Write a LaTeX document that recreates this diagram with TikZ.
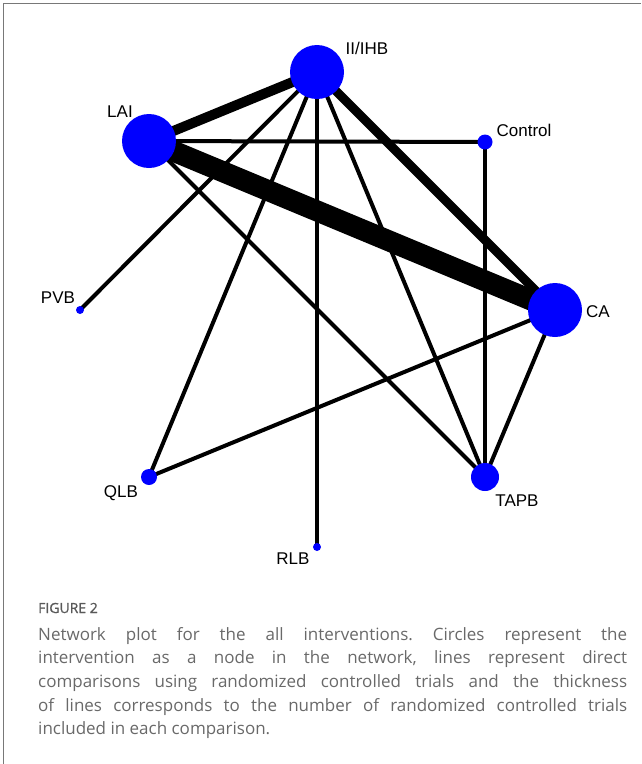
\documentclass[tikz,border=0pt]{standalone}
\usepackage{fontspec}
\setmainfont{Liberation Sans}
\newfontfamily\captionfont{Open Sans}
\newfontfamily\figfont[FakeBold=0.9]{Open Sans}
\usetikzlibrary{backgrounds}
\frenchspacing

\definecolor{netblue}{RGB}{0,0,255}
\definecolor{captiongray}{RGB}{105,105,105}
\definecolor{framegray}{RGB}{120,120,120}

\tikzset{
  trt/.style={circle, fill=netblue, inner sep=0pt, minimum size=#1},
  trtlabel/.style={font=\fontsize{17}{20}\selectfont, anchor=base, inner sep=0pt},
  comp/.style={line width=#1},
}

\begin{document}
\begin{tikzpicture}[x=1pt, y=-1pt]
        \useasboundingbox (0,0) rectangle (641,764);

        % Frame
        \draw[framegray, line width=1.5pt] (3.5,764) -- (3.5,3.5) -- (641,3.5);

        % Treatments
        \node[trt=54pt] (ii) at (317,72) {};
        \node[trt=54pt] (lai) at (149,141) {};
        \node[trt=15pt] (ctrl) at (485,142) {};
        \node[trt=54pt] (ca) at (555,310) {};
        \node[trt=8pt] (pvb) at (80,310) {};
        \node[trt=16pt] (qlb) at (149,477) {};
        \node[trt=8pt] (rlb) at (317,547) {};
        \node[trt=28pt] (tapb) at (485,477) {};

        % Treatment labels
        \node[trtlabel] (ii-l) at (367,54) {II/IHB};
        \node[trtlabel] (lai-l) at (120,117) {LAI};
        \node[trtlabel] (ctrl-l) at (524,136) {Control};
        \node[trtlabel] (ca-l) at (598,317) {CA};
        \node[trtlabel] (pvb-l) at (58,303) {PVB};
        \node[trtlabel] (qlb-l) at (121,497) {QLB};
        \node[trtlabel] (rlb-l) at (293,564) {RLB};
        \node[trtlabel] (tapb-l) at (517,506) {TAPB};

        % Comparisons
        \begin{scope}[on background layer]
          \draw[comp=21pt] (lai.center) -- (ca.center);
          \draw[comp=10pt] (lai.center) -- (ii.center);
          \draw[comp=9pt] (ii.center) -- (ca.center);
          \foreach \a/\b in {lai/ctrl, lai/tapb, ii/pvb, ii/qlb, ii/rlb, ii/tapb,
                             ctrl/tapb, qlb/ca, ca/tapb} {
            \draw[comp=4pt] (\a.center) -- (\b.center);
          }
        \end{scope}

        % Caption
        \node[anchor=base west, inner sep=0pt, text=captiongray!85!black,
              font=\figfont\fontsize{14}{16}\selectfont] (fig) at (38,613) {FIGURE 2};
        \node[anchor=north west, inner sep=0pt, text width=589pt, align=justify,
              text=captiongray, font=\captionfont\fontsize{17}{23.6}\selectfont] (caption) at (38,627)
          {Network plot for the all interventions. Circles represent the\linebreak
           intervention as a node in the network, lines represent direct\linebreak
           comparisons using randomized controlled trials and the thickness\linebreak
           of lines corresponds to the number of randomized controlled trials\linebreak
           included in each comparison.};
\end{tikzpicture}
\end{document}
